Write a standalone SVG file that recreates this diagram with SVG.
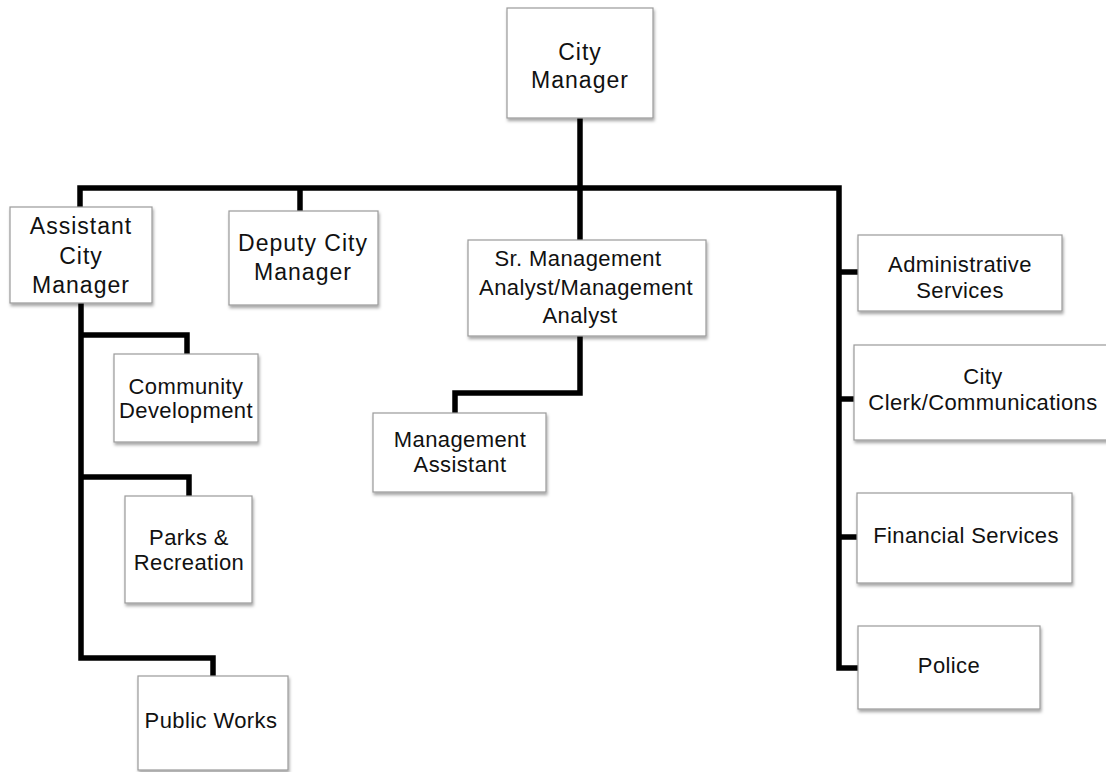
<svg xmlns="http://www.w3.org/2000/svg" width="1106" height="772" viewBox="0 0 1106 772">
<defs>
<filter id="sh" x="-10%" y="-10%" width="125%" height="130%">
<feDropShadow dx="1" dy="2.5" stdDeviation="1.6" flood-color="#000" flood-opacity="0.35"/>
</filter>
<style>
.box{fill:#fff;stroke:#9a9a9a;stroke-width:1.2;filter:url(#sh)}
.t{font-family:"Liberation Sans",Arial,sans-serif;fill:#111;text-anchor:middle}
.big{font-size:23px;letter-spacing:1px}
.sm{font-size:22px;letter-spacing:0.4px}
.c{fill:none;stroke:#000;stroke-width:5.5;stroke-linejoin:miter;stroke-linecap:butt}
</style>
</defs>
<rect width="1106" height="772" fill="#fff"/>
<g id="connectors">
<path class="c" d="M580,118 V188"/>
<path class="c" d="M80,207 V188 H839 V668 H858"/>
<path class="c" d="M300,188 V211"/>
<path class="c" d="M580,188 V240"/>
<path class="c" d="M839,272 H858"/>
<path class="c" d="M839,399 H854"/>
<path class="c" d="M839,537 H857"/>
<path class="c" d="M81,303 V658 H213 V676"/>
<path class="c" d="M81,335 H187 V354"/>
<path class="c" d="M81,477 H189 V496"/>
<path class="c" d="M580,336 V393 H455 V413"/>
</g>
<g id="city-manager">
<rect class="box" x="507" y="8" width="146" height="110"/>
<text class="t big" x="580" y="60">City</text>
<text class="t big" x="580" y="88">Manager</text>
</g>
<g id="assistant-city-manager">
<rect class="box" x="10" y="207" width="142" height="96"/>
<text class="t big" x="81" y="234">Assistant</text>
<text class="t big" x="81" y="264">City</text>
<text class="t big" x="81" y="293">Manager</text>
</g>
<g id="deputy-city-manager">
<rect class="box" x="229" y="211" width="149" height="94"/>
<text class="t big" x="303" y="251">Deputy City</text>
<text class="t big" x="303" y="280">Manager</text>
</g>
<g id="sr-management-analyst">
<rect class="box" x="468" y="240" width="238" height="96"/>
<text class="t sm" x="578" y="266">Sr. Management</text>
<text class="t sm" x="586" y="295">Analyst/Management</text>
<text class="t sm" x="580" y="323">Analyst</text>
</g>
<g id="management-assistant">
<rect class="box" x="373" y="413" width="173" height="79"/>
<text class="t sm" x="460" y="447">Management</text>
<text class="t sm" x="460" y="472">Assistant</text>
</g>
<g id="community-development">
<rect class="box" x="114" y="354" width="144" height="88"/>
<text class="t sm" x="186" y="394">Community</text>
<text class="t sm" x="186" y="418">Development</text>
</g>
<g id="parks-recreation">
<rect class="box" x="125" y="496" width="127" height="107"/>
<text class="t sm" x="189" y="545">Parks &amp;</text>
<text class="t sm" x="189" y="570">Recreation</text>
</g>
<g id="public-works">
<rect class="box" x="138" y="676" width="150" height="94"/>
<text class="t sm" x="211" y="728">Public Works</text>
</g>
<g id="administrative-services">
<rect class="box" x="858" y="235" width="204" height="76"/>
<text class="t sm" x="960" y="272">Administrative</text>
<text class="t sm" x="960" y="298">Services</text>
</g>
<g id="city-clerk">
<rect class="box" x="854" y="345" width="260" height="95"/>
<text class="t sm" x="983" y="384">City</text>
<text class="t sm" x="983" y="410">Clerk/Communications</text>
</g>
<g id="financial-services">
<rect class="box" x="857" y="493" width="215" height="90"/>
<text class="t sm" x="966" y="543">Financial Services</text>
</g>
<g id="police">
<rect class="box" x="858" y="626" width="182" height="83"/>
<text class="t sm" x="949" y="673">Police</text>
</g>
</svg>
